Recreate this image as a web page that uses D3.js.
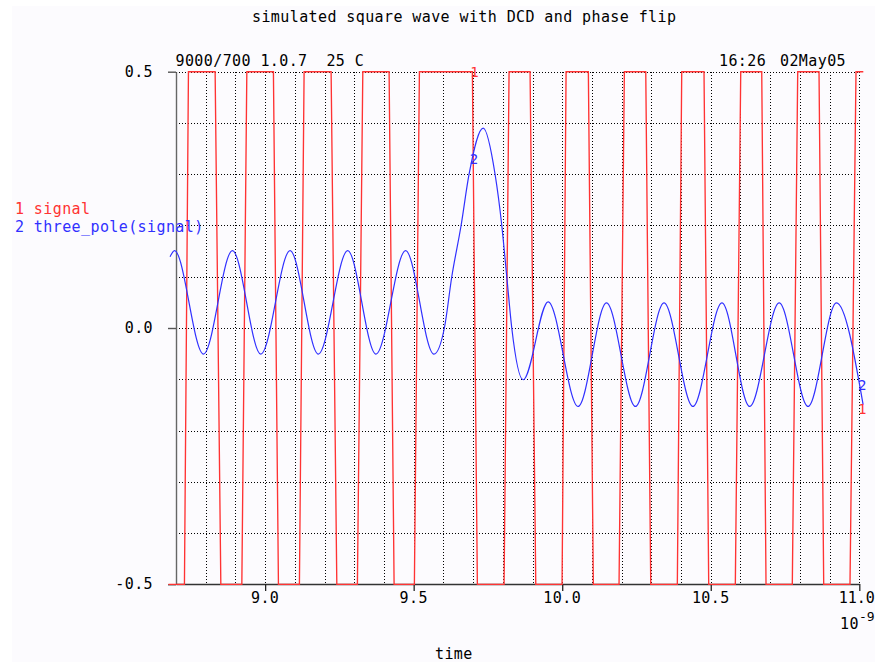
<!DOCTYPE html>
<html>
<head>
<meta charset="utf-8">
<script src="https://cdn.jsdelivr.net/npm/d3@7"></script>
<style>
  html, body { margin: 0; padding: 0; background: #ffffff; }
  svg { display: block; }
  text { font-family: "DejaVu Sans Mono", "Liberation Mono", monospace; font-size: 15px; letter-spacing: 0.4px; white-space: pre; }
</style>
</head>
<body>
<svg id="chart" width="875" height="662"></svg>
<script>
// ---------- data ----------
const title = "simulated square wave with DCD and phase flip";
const headerLeft = "9000/700 1.0.7  25 C";
const headerTime = "16:26";
const headerDate = "02May05";
const xLabel = "time";
const xExponentBase = "10";
const xExponent = "-9";
const xDomain = [8.7, 11.0];
const yDomain = [-0.5, 0.5];
const xTicks = [9.0, 9.5, 10.0, 10.5, 11.0];
const xTickLabels = ["9.0", "9.5", "10.0", "10.5", "11.0"];
const yTicks = [0.5, 0.0, -0.5];
const yTickLabels = ["0.5", "0.0", "-0.5"];
const xGrid = d3.range(88, 111).map(d => d / 10);     // 8.8 ... 11.0 step 0.1
const yGrid = d3.range(-4, 6).map(d => d / 10);       // -0.4 ... 0.5 step 0.1
const seriesNames = ["1 signal", "2 three_pole(signal)"];

// series 1 : signal (time in ns, value)
const signalTime = [
  8.6746,
  8.7284, 8.7419, 8.8317, 8.8509,
  8.9216, 8.9384, 9.0279, 9.0448,
  9.1154, 9.1312, 9.2221, 9.2413,
  9.3106, 9.3288, 9.4173, 9.4341,
  9.5024, 9.5193, 9.6976, 9.7144,
  9.8043, 9.8211, 9.8918, 9.9110,
  9.9995, 10.0130, 10.0880, 10.1048,
  10.1913, 10.2092, 10.2812, 10.2980,
  10.3875, 10.4023, 10.4773, 10.4931,
  10.5827, 10.6009, 10.6716, 10.6860,
  10.7745, 10.7927, 10.8644, 10.8802,
  10.9687, 10.9889,
  11.0135
];
const signalValue = [
  -0.5,
  -0.5, 0.5, 0.5, -0.5,
  -0.5, 0.5, 0.5, -0.5,
  -0.5, 0.5, 0.5, -0.5,
  -0.5, 0.5, 0.5, -0.5,
  -0.5, 0.5, 0.5, -0.5,
  -0.5, 0.5, 0.5, -0.5,
  -0.5, 0.5, 0.5, -0.5,
  -0.5, 0.5, 0.5, -0.5,
  -0.5, 0.5, 0.5, -0.5,
  -0.5, 0.5, 0.5, -0.5,
  -0.5, 0.5, 0.5, -0.5,
  -0.5, 0.5,
  0.5
];

// series 2 : three_pole(signal)
const filteredTime = [
  8.680, 8.695, 8.7925, 8.890, 8.9855, 9.084, 9.179, 9.278, 9.373, 9.473,
  9.568, 9.6034, 9.6283, 9.6596, 9.6865, 9.734, 9.774, 9.7966, 9.8134, 9.8302,
  9.8685, 9.9526, 10.0535, 10.149, 10.2465, 10.3427, 10.440, 10.5377, 10.631,
  10.7304, 10.8275, 10.923, 11.013
];
const filteredValue = [
  0.139, 0.151, -0.051, 0.151, -0.051, 0.151, -0.051, 0.151, -0.051, 0.151,
  -0.051, 0.0, 0.1, 0.2, 0.3, 0.390, 0.3, 0.2, 0.1, 0.0,
  -0.101, 0.051, -0.153, 0.049, -0.153, 0.049, -0.153, 0.049, -0.153,
  0.049, -0.153, 0.049, -0.150
];

// curve markers (series number placed on the trace, data units)
const markerSeries = [1, 2, 2, 1];
const markerTime = [9.705, 9.703, 11.01, 11.01];
const markerValue = [0.5, 0.33, -0.111, -0.157];

// ---------- drawing ----------
const svg = d3.select("#chart");
const red = "#ff3333", blue = "#3030ff";
const W = 875, H = 662;

svg.append("rect").attr("x", 12).attr("y", 6).attr("width", W - 12).attr("height", H - 6)
  .attr("fill", "#fcfbfe");

const x = d3.scaleLinear().domain(xDomain).range([176, 859.3]);
const y = d3.scaleLinear().domain(yDomain).range([584.3, 71.7]);
const px = v => Math.round(x(v)) + 0.5;
const py = v => Math.round(y(v)) + 0.5;

// dotted grid
const grid = svg.append("g").attr("stroke", "#000").attr("stroke-width", 1)
  .attr("stroke-dasharray", "1,2").attr("shape-rendering", "crispEdges");
grid.selectAll("line.h").data(yGrid).join("line").attr("class", "h")
  .attr("x1", x(xDomain[0])).attr("x2", x(xDomain[1]))
  .attr("y1", d => py(d)).attr("y2", d => py(d));
grid.selectAll("line.v").data(xGrid).join("line").attr("class", "v")
  .attr("x1", d => px(d)).attr("x2", d => px(d))
  .attr("y1", y(yDomain[1])).attr("y2", y(yDomain[0]));

// axes
const xAxis = d3.axisBottom(x).tickValues(xTicks).tickFormat((d, i) => xTickLabels[i])
  .tickSize(7).tickSizeOuter(0).tickPadding(5);
const gx = svg.append("g").attr("transform", `translate(0,${py(yDomain[0]) - 0.5})`).call(xAxis);
gx.select(".domain").attr("stroke", "#333").attr("stroke-width", 1.3);
gx.selectAll(".tick line").attr("stroke", "#222").attr("stroke-width", 1.3);
gx.selectAll(".tick text").attr("fill", "#000").attr("font-size", 15)
  .attr("font-family", "DejaVu Sans Mono").attr("dy", "0.75em").attr("y", 8)
  .style("letter-spacing", (d, i) => i === xTicks.length - 1 ? "0px" : null)
  .attr("dx", (d, i) => i === xTicks.length - 1 ? -3 : -0.5);

const yAxis = d3.axisLeft(y).tickValues(yTicks).tickFormat((d, i) => yTickLabels[i])
  .tickSize(8).tickSizeOuter(0).tickPadding(15);
const gy = svg.append("g").attr("transform", `translate(${px(xDomain[0]) - 0.5},0)`).call(yAxis);
gy.select(".domain").attr("stroke", "#666").attr("stroke-width", 1.4);
gy.selectAll(".tick line").attr("stroke", "#555").attr("stroke-width", 1.4);
gy.selectAll(".tick text").attr("fill", "#000").attr("font-size", 15)
  .attr("font-family", "DejaVu Sans Mono").attr("dy", "0.3em");

// series 1 : signal
const signalPts = signalTime.map((t, i) => [t, signalValue[i]]);
svg.append("path").datum(signalPts)
  .attr("fill", "none").attr("stroke", red).attr("stroke-width", 1.35)
  .attr("d", d3.line().x(d => x(d[0])).y(d => y(d[1])));

// series 2 : filtered
const filtPts = filteredTime.map((t, i) => [t, filteredValue[i]]);
svg.append("path").datum(filtPts)
  .attr("fill", "none").attr("stroke", blue).attr("stroke-width", 1.2)
  .attr("d", d3.line().curve(d3.curveMonotoneX).x(d => x(d[0])).y(d => y(d[1])));

// curve markers
svg.selectAll("text.marker").data(markerSeries).join("text").attr("class", "marker")
  .attr("x", (d, i) => x(markerTime[i])).attr("y", (d, i) => y(markerValue[i]))
  .attr("dy", "0.38em").attr("text-anchor", "middle")
  .style("letter-spacing", "0px").style("font-size", "14px")
  .attr("fill", d => d === 1 ? red : blue).text(d => d);

// texts
svg.append("text").attr("x", 252).attr("y", 21.5).attr("fill", "#000").text(title);
svg.append("text").attr("x", 175.5).attr("y", 65.5).attr("fill", "#000").text(headerLeft);
svg.append("text").attr("x", 719).attr("y", 65.5).attr("fill", "#000").text(headerTime);
svg.append("text").attr("x", 780).attr("y", 65.5).attr("fill", "#000").text(headerDate);
svg.append("text").attr("x", 435).attr("y", 659).attr("fill", "#000").text(xLabel);
svg.append("text").attr("x", 840).attr("y", 629).attr("fill", "#000").text(xExponentBase);
svg.append("text").attr("x", 859).attr("y", 621).attr("fill", "#000")
  .style("font-size", "13px").style("letter-spacing", "0px").text(xExponent);

svg.selectAll("text.legend").data(seriesNames).join("text").attr("class", "legend")
  .attr("x", 15).attr("y", (d, i) => 214 + i * 17.7)
  .attr("fill", (d, i) => i === 0 ? red : blue).text(d => d);
</script>
</body>
</html>
